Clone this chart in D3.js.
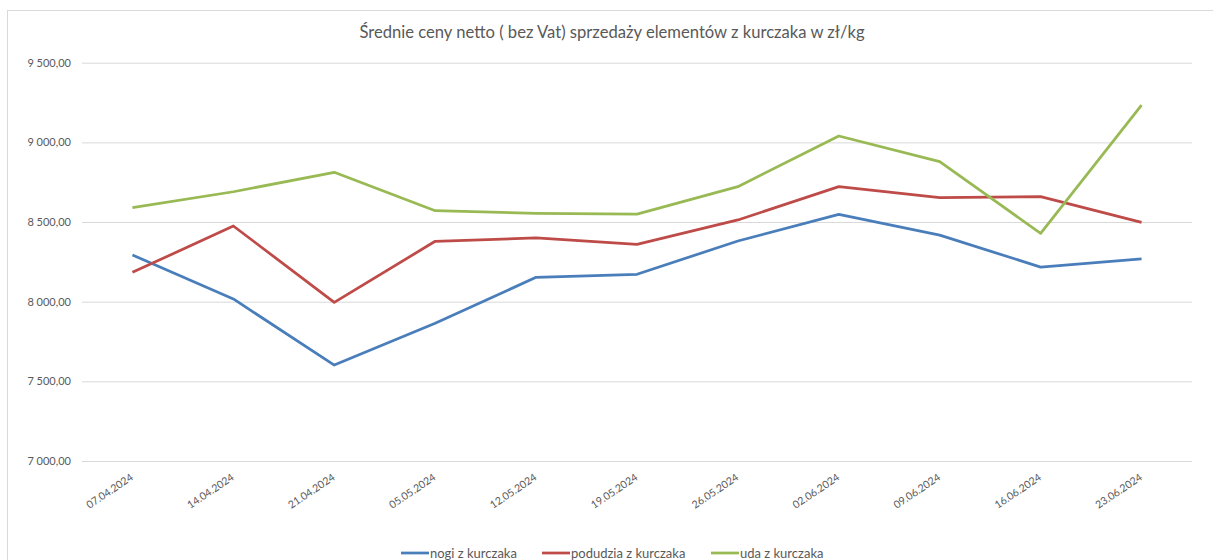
<!DOCTYPE html>
<html>
<head>
<meta charset="utf-8">
<script src="https://cdn.jsdelivr.net/npm/d3@7/dist/d3.min.js"></script>
<style>
  html, body { margin: 0; padding: 0; background: #fff; }
  svg text { font-family: Lato, "Open Sans", sans-serif; }
</style>
</head>
<body>
<svg id="chart" width="1213" height="560"></svg>
<script>
// weekly dates (x categories)
const dates = ['07.04.2024', '14.04.2024', '21.04.2024', '05.05.2024', '12.05.2024', '19.05.2024',
  '26.05.2024', '02.06.2024', '09.06.2024', '16.06.2024', '23.06.2024'];
// net prices, zł/kg
const nogi = [8293, 8017, 7602, 7864, 8153, 8172, 8381, 8548, 8418, 8217, 8268];
const podudzia = [8184, 8475, 7996, 8379, 8400, 8360, 8513, 8722, 8653, 8659, 8498];
const uda = [8590, 8690, 8812, 8571, 8555, 8550, 8722, 9040, 8879, 8429, 9234];
const seriesNames = ['nogi z kurczaka', 'podudzia z kurczaka', 'uda z kurczaka'];
const yTicks = [7000, 7500, 8000, 8500, 9000, 9500];
const title = 'Średnie ceny netto ( bez Vat) sprzedaży elementów z kurczaka w zł/kg';

const COLORS = ['#4a7ebb', '#be4b48', '#98b954'];
const series = [nogi, podudzia, uda];

const svg = d3.select('#chart');
const M = { left: 82, right: 1192, top: 62.7, bottom: 461 };

// chart frame (only top + left edges are visible in the crop)
svg.append('rect').attr('x', 7.5).attr('y', 10.5).attr('width', 1300).attr('height', 700)
  .attr('fill', 'none').attr('stroke', '#d9d9d9').attr('stroke-width', 1);

svg.append('text').attr('x', 612).attr('y', 38).attr('text-anchor', 'middle')
  .attr('font-size', 16.6).attr('fill', '#595959').text(title);

const x = d3.scalePoint().domain(dates).range([M.left, M.right]).padding(0.5);
const y = d3.scaleLinear().domain([7000, 9500]).range([M.bottom, M.top]);

// gridlines + y labels
const yAxis = d3.axisLeft(y).tickValues(yTicks).tickSize(-(M.right - M.left)).tickPadding(11)
  .tickFormat((d) => d3.format(',.2f')(d).replace(',', ' ').replace('.', ','));
const gy = svg.append('g').attr('transform', `translate(${M.left},0)`).call(yAxis);
gy.select('.domain').remove();
gy.selectAll('line').attr('stroke', '#d9d9d9').attr('stroke-width', 1);
gy.selectAll('text').attr('font-size', 11).attr('fill', '#595959');

// x labels, rotated
const xAxis = d3.axisBottom(x).tickSize(0).tickPadding(0);
const gx = svg.append('g').attr('transform', `translate(0,${M.bottom})`).call(xAxis);
gx.select('.domain').remove();
gx.selectAll('text').attr('font-size', 10.5).attr('fill', '#595959')
  .attr('text-anchor', 'end').attr('dy', null)
  .attr('transform', 'translate(1,18) rotate(-34)');

const line = d3.line().x((d, i) => x(dates[i])).y((d) => y(d));
series.forEach((s, k) => {
  svg.append('path').datum(s).attr('d', line).attr('fill', 'none')
    .attr('stroke', COLORS[k]).attr('stroke-width', 2.75).attr('stroke-linejoin', 'round');
});

// legend
const legendX = [401, 542, 711];
seriesNames.forEach((name, k) => {
  const g = svg.append('g').attr('transform', `translate(${legendX[k]},553)`);
  g.append('line').attr('x1', 0).attr('x2', 28).attr('stroke', COLORS[k]).attr('stroke-width', 2.75);
  g.append('text').attr('x', 29).attr('y', 4.5).attr('font-size', 13).attr('fill', '#595959').text(name);
});
</script>
</body>
</html>
